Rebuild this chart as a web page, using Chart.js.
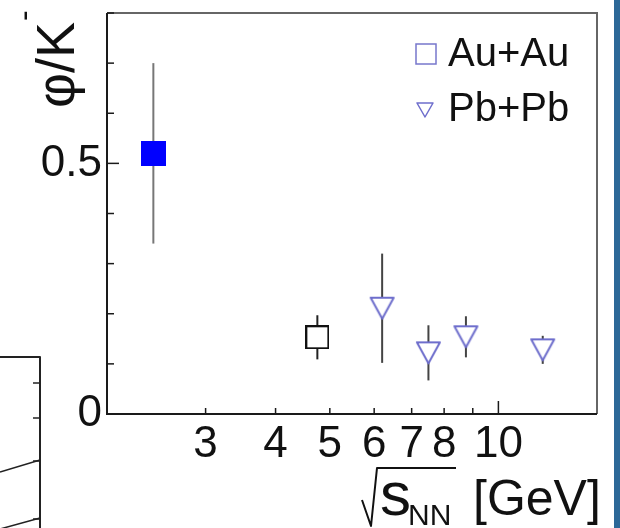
<!DOCTYPE html>
<html>
<head>
<meta charset="utf-8">
<script src="https://cdn.jsdelivr.net/npm/chart.js@4/dist/chart.umd.min.js"></script>
<style>
  html, body { margin: 0; padding: 0; background: #fff; }
  #wrap { position: relative; width: 620px; height: 528px; overflow: hidden; }
  #chart { position: absolute; left: 0; top: 0; }
  #strip { position: absolute; left: 614px; top: 0; width: 6px; height: 528px; background: #2c6898; }
</style>
</head>
<body>
<div id="wrap">
  <canvas id="chart" width="620" height="528"></canvas>
  <div id="strip"></div>
</div>
<script>
// phi/K- ratio vs collision energy
const hadesX = [2.42];
const hadesY = [0.52];
const hadesErr = [0.18];

const auX = [4.75];
const auY = [0.153];
const auErr = [0.044];

const pbX = [6.2, 7.5, 8.75, 12.0];
const pbY = [0.211, 0.122, 0.154, 0.128];
const pbErr = [0.109, 0.055, 0.041, 0.028];

const xTicks = [3, 4, 5, 6, 7, 8, 9, 10];
const xTickLabels = ['3', '4', '5', '6', '7', '8', '', '10'];
const xMajor = [10];
const yTicks = [0, 0.1, 0.2, 0.3, 0.4, 0.5, 0.6, 0.7, 0.8];
const yTickLabels = ['0', '', '', '', '', '0.5', '', '', ''];

const legendLabels = ['Au+Au', 'Pb+Pb'];

const FONT = "'Liberation Sans', Arial, sans-serif";
const TRI = '#6e6ecc';

function makeMarker(w, h, draw) {
  const c = document.createElement('canvas');
  c.width = w;
  c.height = h;
  draw(c.getContext('2d'), w, h);
  return c;
}

const filledSquare = makeMarker(25, 25, (g, w, h) => {
  g.fillStyle = '#0000ff';
  g.fillRect(0, 0, w, h);
});

const openSquare = makeMarker(24, 24, (g, w, h) => {
  g.fillStyle = '#fff';
  g.fillRect(0, 0, w, h);
  g.strokeStyle = '#111';
  g.lineWidth = 2;
  g.strokeRect(1, 1, w - 2, h - 2);
});

function triangle(g, w, h, m, color, lw) {
  g.fillStyle = '#fff';
  g.strokeStyle = color;
  g.lineWidth = lw;
  g.lineJoin = 'round';
  g.beginPath();
  g.moveTo(m, m);
  g.lineTo(w - m, m);
  g.lineTo(w / 2, h - m);
  g.closePath();
  g.fill();
  g.stroke();
}

const downTri = makeMarker(27, 25, (g, w, h) => triangle(g, w, h, 2, TRI, 2));

const toPoints = (xs, ys) => xs.map((x, i) => ({ x, y: ys[i] }));

// chart.js pads the area for the end labels, we want the frame where it is
const noPad = s => {
  s.paddingTop = s.paddingBottom = s.paddingLeft = s.paddingRight = 0;
};

const extras = {
  id: 'extras',
  beforeDatasetsDraw(chart) {
    const { ctx, scales: { x, y } } = chart;
    ctx.save();
    chart.data.datasets.forEach(ds => {
      ctx.strokeStyle = ds.barColor;
      ctx.lineWidth = 2;
      ds.data.forEach((p, i) => {
        const px = x.getPixelForValue(p.x);
        ctx.beginPath();
        ctx.moveTo(px, y.getPixelForValue(p.y + ds.errors[i]));
        ctx.lineTo(px, y.getPixelForValue(p.y - ds.errors[i]));
        ctx.stroke();
      });
    });
    ctx.restore();
  },
  afterDraw(chart) {
    const { ctx, chartArea: a, scales: { x, y } } = chart;
    ctx.save();
    ctx.lineCap = 'butt';

    // frame
    ctx.lineWidth = 2;
    ctx.strokeStyle = '#666';
    ctx.beginPath();
    ctx.moveTo(a.left, a.top);
    ctx.lineTo(a.right, a.top);
    ctx.lineTo(a.right, a.bottom);
    ctx.stroke();
    ctx.strokeStyle = '#1a1a1a';
    ctx.beginPath();
    ctx.moveTo(a.left, a.top);
    ctx.lineTo(a.left, a.bottom);
    ctx.lineTo(a.right, a.bottom);
    ctx.stroke();

    // inward ticks
    ctx.lineWidth = 1.5;
    yTicks.forEach((v, i) => {
      const py = y.getPixelForValue(v);
      const len = yTickLabels[i] ? 12 : 7;
      ctx.beginPath();
      ctx.moveTo(a.left, py);
      ctx.lineTo(a.left + len, py);
      ctx.stroke();
    });
    xTicks.forEach(v => {
      const px = x.getPixelForValue(v);
      const len = xMajor.includes(v) ? 13 : 6;
      ctx.beginPath();
      ctx.moveTo(px, a.bottom);
      ctx.lineTo(px, a.bottom - len);
      ctx.stroke();
    });

    // legend
    const rows = [66, 121];
    ctx.fillStyle = '#111';
    ctx.font = '40px ' + FONT;
    ctx.textBaseline = 'alphabetic';
    ctx.textAlign = 'left';
    legendLabels.forEach((t, i) => ctx.fillText(t, 448, rows[i]));
    ctx.strokeStyle = '#7777cc';
    ctx.lineWidth = 1.5;
    ctx.strokeRect(416, 44, 20, 20);
    ctx.translate(416, 102);
    triangle(ctx, 18, 16, 1, TRI, 1.5);
    ctx.setTransform(1, 0, 0, 1, 0, 0);

    // y title
    ctx.save();
    ctx.translate(74, 108);
    ctx.rotate(-Math.PI / 2);
    ctx.fillStyle = '#111';
    ctx.font = '54px ' + FONT;
    const main = '\u03c6/K';
    ctx.fillText(main, 0, 0);
    const w = ctx.measureText(main).width;
    ctx.font = '32px ' + FONT;
    ctx.fillText('-', w + 1, -40);
    ctx.restore();

    // x title
    ctx.fillStyle = '#111';
    ctx.strokeStyle = '#111';
    ctx.lineWidth = 2;
    ctx.beginPath();
    ctx.moveTo(362, 500);
    ctx.lineTo(371, 526);
    ctx.lineTo(377, 468);
    ctx.lineTo(456, 468);
    ctx.stroke();
    ctx.font = '62px ' + FONT;
    ctx.fillText('s', 380, 515);
    ctx.font = '30px ' + FONT;
    ctx.fillText('NN', 408, 525);
    ctx.font = '50px ' + FONT;
    ctx.fillText('[GeV]', 473, 515);

    // piece of the neighbouring panel
    ctx.strokeStyle = '#222';
    ctx.lineWidth = 2;
    ctx.beginPath();
    ctx.moveTo(0, 357);
    ctx.lineTo(40, 357);
    ctx.lineTo(40, 528);
    ctx.stroke();
    ctx.lineWidth = 1.5;
    [383, 418, 461, 519].forEach(ty => {
      ctx.beginPath();
      ctx.moveTo(33, ty);
      ctx.lineTo(40, ty);
      ctx.stroke();
    });
    ctx.beginPath();
    ctx.moveTo(0, 472);
    ctx.lineTo(40, 460);
    ctx.moveTo(0, 529);
    ctx.lineTo(40, 518);
    ctx.stroke();

    ctx.restore();
  }
};

new Chart(document.getElementById('chart'), {
  type: 'scatter',
  data: {
    datasets: [
      {
        label: 'Au+Au (HADES)',
        data: toPoints(hadesX, hadesY),
        errors: hadesErr,
        barColor: '#777',
        pointStyle: filledSquare,
        pointRadius: 12
      },
      {
        label: legendLabels[0],
        data: toPoints(auX, auY),
        errors: auErr,
        barColor: '#222',
        pointStyle: openSquare,
        pointRadius: 12
      },
      {
        label: legendLabels[1],
        data: toPoints(pbX, pbY),
        errors: pbErr,
        barColor: '#444',
        pointStyle: downTri,
        pointRadius: 12
      }
    ]
  },
  options: {
    responsive: false,
    animation: false,
    layout: { padding: { top: 10, right: 23, left: 0, bottom: 0 } },
    plugins: { legend: { display: false }, tooltip: { enabled: false } },
    scales: {
      x: {
        type: 'logarithmic',
        min: 2,
        max: 15,
        grid: { display: false, drawTicks: false },
        border: { display: false },
        afterBuildTicks: s => { s.ticks = xTicks.map(v => ({ value: v })); },
        afterFit: s => { s.height = 114; noPad(s); },
        ticks: {
          autoSkip: false,
          maxRotation: 0,
          minRotation: 0,
          padding: 4,
          color: '#111',
          font: { family: FONT, size: 44 },
          callback: (v, i) => xTickLabels[i] || null
        }
      },
      y: {
        min: 0,
        max: 0.8,
        grid: { display: false, drawTicks: false },
        border: { display: false },
        afterBuildTicks: s => { s.ticks = yTicks.map(v => ({ value: v })); },
        afterFit: s => { s.width = 107; noPad(s); },
        ticks: {
          padding: 5,
          color: '#111',
          font: { family: FONT, size: 44 },
          callback: (v, i) => yTickLabels[i] || null
        }
      }
    }
  },
  plugins: [extras]
});
</script>
</body>
</html>
